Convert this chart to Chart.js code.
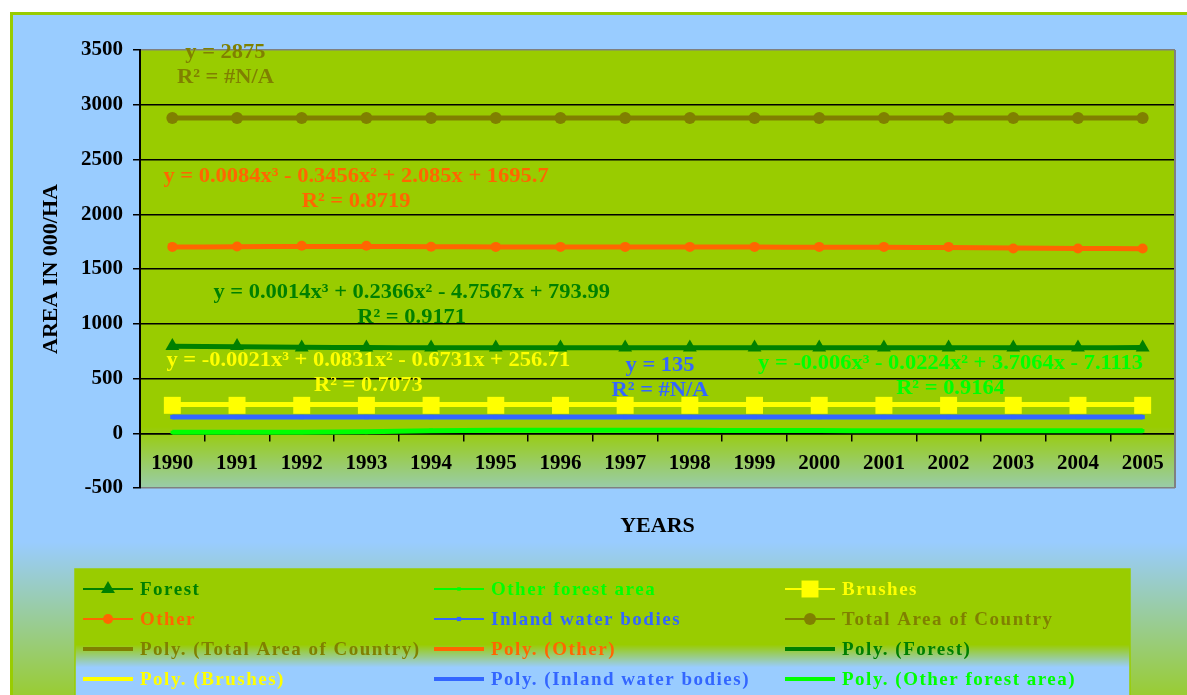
<!doctype html>
<html>
  <head>
    <title>Area in 000/HA</title>
    <style>
      body { margin: 0; background: #fff; }
    </style>
  </head>
  <script src="https://cdn.jsdelivr.net/npm/chart.js@4.4.0/dist/chart.umd.min.js"></script>
  <body>
    <canvas id="area" width="1187" height="695"></canvas>
  </body>
  <script>
    const years = ['1990', '1991', '1992', '1993', '1994', '1995', '1996', '1997',
                   '1998', '1999', '2000', '2001', '2002', '2003', '2004', '2005'];

    // series (000 ha)
    const forest = [796, 796, 782, 782, 782, 782, 782, 782, 782, 782, 782, 782, 782, 782, 782, 782];
    const otherForest = [8, 8, 8, 8, 28, 30, 30, 28, 26, 24, 22, 22, 22, 22, 22, 22];
    const brushes = [255, 255, 255, 255, 255, 255, 255, 255, 255, 255, 255, 255, 255, 255, 255, 255];
    const other = [1702, 1706, 1712, 1712, 1704, 1702, 1702, 1702, 1702, 1702, 1702, 1702, 1702, 1688, 1688, 1688];
    const inland = [148, 148, 148, 148, 148, 148, 148, 148, 148, 148, 148, 148, 148, 148, 148, 148];
    const totalArea = [2878, 2878, 2878, 2878, 2878, 2878, 2878, 2878, 2878, 2878, 2878, 2878, 2878, 2878, 2878, 2878];

    // trend lines as they show on the picture
    const polyTotal = [2878, 2878, 2878, 2878, 2878, 2878, 2878, 2878, 2878, 2878, 2878, 2878, 2878, 2878, 2878, 2878];
    const polyOther = [1700, 1703, 1706, 1706, 1704, 1702, 1701, 1700, 1700, 1700, 1699, 1698, 1696, 1692, 1688, 1685];
    const polyForest = [794, 790, 785, 782, 781, 780, 780, 780, 780, 780, 780, 780, 780, 781, 781, 782];
    const polyBrushes = [262, 262, 262, 262, 262, 262, 262, 262, 262, 262, 262, 262, 262, 262, 262, 262];
    const polyInland = [148, 148, 148, 148, 148, 148, 148, 148, 148, 148, 148, 148, 148, 148, 148, 148];
    const polyOtherForest = [8, 9, 10, 14, 22, 27, 28, 28, 27, 25, 24, 23, 22, 22, 22, 22];

    const yTicks = [-500, 0, 500, 1000, 1500, 2000, 2500, 3000, 3500];

    // trend line equations, anchored at (category index, value) of the first line
    const trendLabels = [
      { lines: ['y = 2875', 'R\u00B2 = #N/A'], color: '#808000', at: [0.82, 3473] },
      { lines: ['y = 0.0084x\u00B3 - 0.3456x\u00B2 + 2.085x + 1695.7', 'R\u00B2 = 0.8719'], color: '#FF6600', at: [2.84, 2340] },
      { lines: ['y = 0.0014x\u00B3 + 0.2366x\u00B2 - 4.7567x + 793.99', 'R\u00B2 = 0.9171'], color: '#008000', at: [3.70, 1283] },
      { lines: ['y = -0.0021x\u00B3 + 0.0831x\u00B2 - 0.6731x + 256.71', 'R\u00B2 = 0.7073'], color: '#FFFF00', at: [3.03, 660] },
      { lines: ['y = 135', 'R\u00B2 = #N/A'], color: '#3366FF', at: [7.54, 614] },
      { lines: ['y = -0.006x\u00B3 - 0.0224x\u00B2 + 3.7064x - 7.1113', 'R\u00B2 = 0.9164'], color: '#00FF00', at: [12.03, 633] }
    ];

    const serif = "'Liberation Serif', 'Times New Roman', serif";

    const series = (label, data, color, style, radius, order) => ({
      label: label,
      data: data,
      borderColor: color,
      backgroundColor: color,
      borderWidth: 2,
      pointStyle: style,
      pointRadius: radius,
      pointBorderWidth: 0,
      pointBackgroundColor: color,
      order: order
    });

    const poly = (label, data, color) => ({
      label: label,
      data: data,
      borderColor: color,
      backgroundColor: color,
      borderWidth: 5,
      pointRadius: 0,
      tension: 0.4,
      order: 10
    });

    // datasets in legend order (row by row, three columns)
    const datasets = [
      series('Forest', forest, '#008000', 'triangle', 8, 3),
      series('Other forest area', otherForest, '#00FF00', 'rect', 2.5, 5),
      series('Brushes', brushes, '#FFFF00', 'rect', 12, 1),
      series('Other', other, '#FF6600', 'circle', 5, 4),
      series('Inland water bodies', inland, '#3366FF', 'rect', 3, 2),
      series('Total Area of Country', totalArea, '#808000', 'circle', 6, 0),
      poly('Poly. (Total Area of Country)', polyTotal, '#808000'),
      poly('Poly. (Other)', polyOther, '#FF6600'),
      poly('Poly. (Forest)', polyForest, '#008000'),
      poly('Poly. (Brushes)', polyBrushes, '#FFFF00'),
      poly('Poly. (Inland water bodies)', polyInland, '#3366FF'),
      poly('Poly. (Other forest area)', polyOtherForest, '#00FF00')
    ];

    const drawMarker = (ctx, style, r, x, y, color) => {
      ctx.fillStyle = color;
      ctx.beginPath();
      if (style === 'triangle') {
        ctx.moveTo(x, y - r);
        ctx.lineTo(x + r * 0.866, y + r * 0.5);
        ctx.lineTo(x - r * 0.866, y + r * 0.5);
        ctx.closePath();
      } else if (style === 'circle') {
        ctx.arc(x, y, r, 0, Math.PI * 2);
      } else {
        const s = r * Math.SQRT1_2;
        ctx.rect(x - s, y - s, s * 2, s * 2);
      }
      ctx.fill();
    };

    // the original text runs a little wide, so stretch it sideways
    const wideText = (ctx, text, x, y, stretch) => {
      ctx.save();
      ctx.translate(x, y);
      ctx.scale(stretch, 1);
      ctx.fillText(text, 0, 0);
      ctx.restore();
    };

    const decor = {
      id: 'decor',
      beforeDraw(chart) {
        const ctx = chart.ctx;
        const a = chart.chartArea;
        const w = chart.width, h = chart.height;
        ctx.save();
        ctx.fillStyle = '#fff';
        ctx.fillRect(0, 0, w, h);

        let g = ctx.createLinearGradient(0, 0, 0, h);
        g.addColorStop(0, '#99CCFF');
        g.addColorStop(0.78, '#99CCFF');
        g.addColorStop(1, '#99CC33');
        ctx.fillStyle = g;
        ctx.fillRect(10, 12, w, h);
        ctx.strokeStyle = '#99CC00';
        ctx.lineWidth = 3;
        ctx.strokeRect(11.5, 13.5, w + 20, h + 20);

        // plot area
        g = ctx.createLinearGradient(0, a.top, 0, a.bottom);
        g.addColorStop(0, '#99CC00');
        g.addColorStop(0.86, '#99CC00');
        g.addColorStop(1, '#99CCAA');
        ctx.fillStyle = g;
        ctx.fillRect(a.left, a.top, a.right - a.left, a.bottom - a.top);

        // legend box
        g = ctx.createLinearGradient(0, 569, 0, 695);
        g.addColorStop(0, '#99CC00');
        g.addColorStop(0.6, '#99CC00');
        g.addColorStop(0.78, '#99CCFF');
        g.addColorStop(1, '#99CCFF');
        ctx.fillStyle = g;
        ctx.fillRect(75, 569, 1055, 140);
        ctx.strokeStyle = '#99CC00';
        ctx.lineWidth = 1.5;
        ctx.strokeRect(75, 569, 1055, 140);
        ctx.restore();
      },
      afterDatasetsDraw(chart) {
        const ctx = chart.ctx;
        const a = chart.chartArea;
        const xs = chart.scales.x, ys = chart.scales.y;
        ctx.save();
        ctx.strokeStyle = '#808080';
        ctx.lineWidth = 2;
        ctx.beginPath();
        ctx.moveTo(a.right, a.top);
        ctx.lineTo(a.right, a.bottom);
        ctx.stroke();

        ctx.font = 'bold 21px ' + serif;
        ctx.textAlign = 'center';
        ctx.textBaseline = 'middle';
        trendLabels.forEach(t => {
          const x = xs.getPixelForValue(t.at[0]);
          const y = ys.getPixelForValue(t.at[1]);
          ctx.fillStyle = t.color;
          t.lines.forEach((line, i) => wideText(ctx, line, x, y + i * 25, 1.07));
        });
        ctx.restore();
      },
      afterDraw(chart) {
        const ctx = chart.ctx;
        const a = chart.chartArea;
        ctx.save();
        ctx.fillStyle = '#000';
        ctx.font = 'bold 22px ' + serif;
        ctx.textAlign = 'center';
        ctx.textBaseline = 'middle';
        ctx.fillText('YEARS', (a.left + a.right) / 2, 526);
        ctx.translate(51, (a.top + a.bottom) / 2);
        ctx.rotate(-Math.PI / 2);
        ctx.fillText('AREA IN 000/HA', 0, 0);
        ctx.restore();

        // legend, three columns
        const colX = [83, 434, 785];
        const rowY = [589, 619, 649, 679];
        ctx.save();
        ctx.font = 'bold 19px ' + serif;
        ctx.letterSpacing = '1.5px';
        ctx.textBaseline = 'middle';
        ctx.textAlign = 'left';
        chart.data.datasets.forEach((ds, i) => {
          const x = colX[i % 3];
          const y = rowY[Math.floor(i / 3)];
          const isPoly = ds.pointRadius === 0;
          ctx.strokeStyle = ds.borderColor;
          ctx.lineWidth = isPoly ? 4 : 2;
          ctx.beginPath();
          ctx.moveTo(x, y);
          ctx.lineTo(x + 50, y);
          ctx.stroke();
          if (!isPoly) {
            drawMarker(ctx, ds.pointStyle, ds.pointRadius, x + 25, y, ds.borderColor);
          }
          ctx.fillStyle = ds.borderColor;
          ctx.fillText(ds.label, x + 57, y + 1);
        });
        ctx.restore();
      }
    };

    const areaChart = new Chart(document.getElementById('area').getContext('2d'), {
      type: 'line',
      data: {
        labels: years,
        datasets: datasets
      },
      options: {
        responsive: false,
        animation: false,
        layout: { padding: { left: 0, top: 50, right: 4, bottom: 207 } },
        plugins: {
          legend: { display: false },
          tooltip: { enabled: false }
        },
        scales: {
          x: {
            type: 'category',
            offset: true,
            position: { y: 0 },
            grid: {
              offset: true,
              drawOnChartArea: false,
              drawTicks: true,
              tickLength: 7,
              color: '#000',
              lineWidth: 1.5
            },
            border: { display: true, color: '#000', width: 1.5 },
            ticks: {
              color: '#000',
              font: { family: serif, size: 21, weight: 'bold' },
              padding: 11,
              maxRotation: 0,
              autoSkip: false
            }
          },
          y: {
            min: yTicks[0],
            max: yTicks[yTicks.length - 1],
            afterBuildTicks: scale => { scale.ticks = yTicks.map(v => ({ value: v })); },
            afterFit: scale => { scale.width = 140; },
            grid: {
              color: c => (c.tick && (c.tick.value === 3500 || c.tick.value === -500)) ? '#808080' : '#000',
              lineWidth: 1.5,
              tickLength: 7,
              tickColor: '#000'
            },
            border: { display: true, color: '#000', width: 2 },
            ticks: {
              color: '#000',
              font: { family: serif, size: 21, weight: 'bold' },
              padding: 10,
              callback: v => String(v)
            }
          }
        }
      },
      plugins: [decor]
    });
  </script>
</html>
